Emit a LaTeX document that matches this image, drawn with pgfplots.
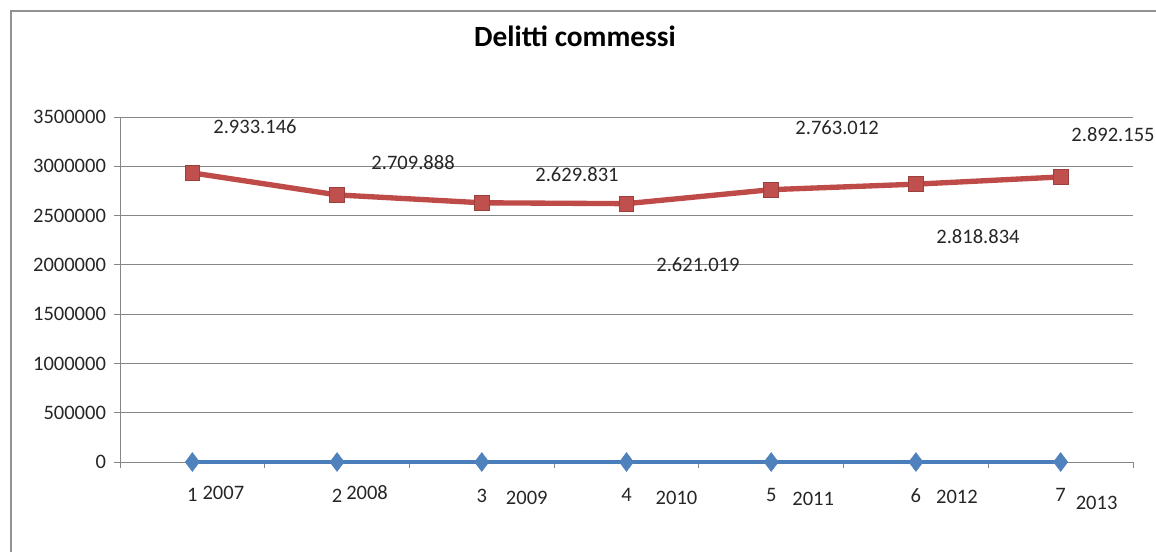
\documentclass[border=0pt]{standalone}
\usepackage{pgfplots}
\pgfplotsset{compat=1.18}
\usepackage{fontspec}
\setmainfont{Carlito}
\definecolor{exred}{HTML}{C0504D}
\definecolor{exredline}{HTML}{BE4B48}
\definecolor{exblue}{HTML}{4F81BD}
\definecolor{exblueline}{HTML}{4A7EBB}
\definecolor{gridgray}{HTML}{868686}
\begin{document}
\begin{tikzpicture}[x=1pt,y=1pt]
\useasboundingbox (0,0) rectangle (867,-413.25);
\draw[color=gridgray!90, line width=1.1pt] (8.25,-8.25) rectangle (900,-440);
\node[font=\fontsize{22}{26}\selectfont\bfseries] at (431.25,-27.5) {Delitti commessi};
\begin{axis}[
  at={(90pt,-346.5pt)}, anchor=south west,
  scale only axis, width=759.75pt, height=258.75pt,
  xmin=0.5, xmax=7.5, ymin=0, ymax=3500000,
  axis lines*=left,
  axis line style={gridgray, line width=0.75pt},
  clip=false,
  xtick={0.5,1.5,2.5,3.5,4.5,5.5,6.5,7.5},
  xticklabels={},
  extra x ticks={1,2,3,4,5,6,7},
  extra x tick labels={1,2,3,4,5,6,7},
  extra x tick style={tick style={draw=none}, xticklabel style={yshift=-12pt}},
  major tick length=4.5pt,
  tick align=outside,
  xtick pos=lower,
  ytick={0,500000,1000000,1500000,2000000,2500000,3000000,3500000},
  ytick pos=left,
  tick style={gridgray, line width=0.75pt},
  ymajorgrids,
  grid style={gridgray, line width=0.75pt},
  scaled y ticks=false,
  /pgf/number format/fixed,
  /pgf/number format/1000 sep={},
  /pgf/number format/assume math mode=true,
  tick label style={font=\fontsize{15.4}{18}\selectfont, text=black!85},
  yticklabel style={xshift=-2.5pt},
]
\addplot[exblueline, line width=3pt, mark=diamond*, mark size=7pt,
  mark options={fill=exblue, draw=exblue, line width=0.5pt}]
  coordinates {(1,0) (2,0) (3,0) (4,0) (5,0) (6,0) (7,0)};
\addplot[exredline, line width=4pt, mark=square*, mark size=5.5pt,
  mark options={fill=exred, draw=exred!80!black, line width=0.6pt}]
  coordinates {(1,2933146) (2,2709888) (3,2629831) (4,2621019) (5,2763012) (6,2818834) (7,2892155)};
\begin{scope}[every node/.style={font=\fontsize{15.4}{18}\selectfont, text=black!85}]
\node at (axis cs:1.433,3398551) {2.933.146};
\node at (axis cs:2.525,3033326) {2.709.888};
\node at (axis cs:3.658,2911594) {2.629.831};
\node at (axis cs:4.494,1998545) {2.621.019};
\node at (axis cs:5.455,3388397) {2.763.012};
\node at (axis cs:6.429,2282603) {2.818.834};
\node at (axis cs:7.362,3317383) {2.892.155};
\node[xshift=23.25pt, yshift=-23.25pt] at (axis cs:1,0) {2007};
\node[xshift=22.5pt, yshift=-23.25pt] at (axis cs:2,0) {2008};
\node[xshift=33.75pt, yshift=-27pt] at (axis cs:3,0) {2009};
\node[xshift=37.5pt, yshift=-27pt] at (axis cs:4,0) {2010};
\node[xshift=31.5pt, yshift=-27.75pt] at (axis cs:5,0) {2011};
\node[xshift=30.75pt, yshift=-26.25pt] at (axis cs:6,0) {2012};
\node[xshift=27pt, yshift=-30.75pt] at (axis cs:7,0) {2013};
\end{scope}
\end{axis}
\end{tikzpicture}
\end{document}
